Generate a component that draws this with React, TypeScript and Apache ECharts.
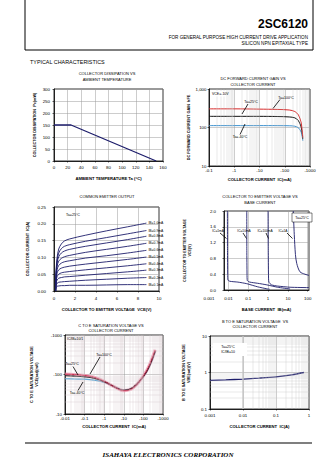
import React, { useEffect, useRef } from 'react';
import * as echarts from 'echarts';

// ---- Chart 1: collector dissipation vs ambient temperature
const pdTemp = [0, 25, 150];
const pdPower = [150, 150, 0];

// ---- Chart 2: DC forward current gain vs collector current (|IC| mA)
const hfeIc = [0.1, 1, 10, 50, 150, 250, 350, 450, 520];
const hfeTa100 = [305, 305, 300, 295, 285, 260, 210, 130, 55];
const hfeTa25 = [195, 195, 195, 193, 188, 178, 150, 100, 50];
const hfeTaM40 = [112, 112, 112, 112, 111, 108, 98, 75, 45];

// ---- Chart 3: common emitter output
const vce = [0.15, 0.2, 0.3, 0.45, 0.7, 1.0, 1.5, 3, 5, 7, 8.8];
const ibLabels = ['IB=1.0mA', 'IB=0.9mA', 'IB=0.8mA', 'IB=0.7mA', 'IB=0.6mA', 'IB=0.5mA', 'IB=0.4mA', 'IB=0.3mA', 'IB=0.2mA', 'IB=0.1mA'];
const icIb10 = [0, 0.06, 0.1, 0.125, 0.14, 0.149, 0.155, 0.166, 0.179, 0.191, 0.202];
const icIb09 = [0, 0.055, 0.092, 0.113, 0.126, 0.133, 0.138, 0.148, 0.159, 0.17, 0.18];
const icIb08 = [0, 0.05, 0.084, 0.102, 0.113, 0.119, 0.124, 0.133, 0.143, 0.153, 0.163];
const icIb07 = [0, 0.045, 0.074, 0.089, 0.097, 0.102, 0.106, 0.115, 0.124, 0.133, 0.142];
const icIb06 = [0, 0.04, 0.064, 0.076, 0.083, 0.087, 0.09, 0.098, 0.105, 0.113, 0.121];
const icIb05 = [0, 0.035, 0.054, 0.063, 0.068, 0.071, 0.074, 0.08, 0.087, 0.094, 0.101];
const icIb04 = [0, 0.03, 0.043, 0.05, 0.054, 0.056, 0.058, 0.063, 0.069, 0.075, 0.081];
const icIb03 = [0, 0.024, 0.033, 0.038, 0.04, 0.042, 0.043, 0.047, 0.052, 0.057, 0.062];
const icIb02 = [0, 0.017, 0.023, 0.026, 0.027, 0.028, 0.029, 0.032, 0.035, 0.038, 0.04];
const icIb01 = [0, 0.01, 0.014, 0.015, 0.016, 0.016, 0.017, 0.017, 0.018, 0.019, 0.019];
const icCurves = [icIb10, icIb09, icIb08, icIb07, icIb06, icIb05, icIb04, icIb03, icIb02, icIb01];

// ---- Chart 4: VCE vs base current (IB mA, VCE V)
const curveLabels = ['IC=1mA', 'IC=10mA', 'IC=100mA', 'IC=1A'];
const ibA = [0.0089, 0.009, 0.0092, 0.0095, 0.012, 0.03, 0.084, 0.3, 0.87, 1.2];
const vA = [2.0, 1.0, 0.4, 0.25, 0.22, 0.2, 0.16, 0.08, 0.03, 0.02];
const ibB = [0.0845, 0.085, 0.087, 0.09, 0.12, 0.3, 0.87, 3, 12.9];
const vB = [2.0, 1.0, 0.4, 0.24, 0.2, 0.17, 0.13, 0.07, 0.025];
const ibC = [1.0, 1.02, 1.05, 1.1, 1.5, 3, 12.9, 116];
const vC = [2.0, 1.0, 0.4, 0.2, 0.13, 0.1, 0.07, 0.06];
const ibD = [18.7, 21, 24, 28, 40.8, 72, 116];
const vD = [2.0, 1.4, 0.9, 0.67, 0.46, 0.4, 0.37];

// ---- Chart 5: VCE(sat) vs IC (|IC| mA, |VCE(sat)| mV)
const satIc = [0.01, 0.03, 0.1, 0.3, 1, 3, 10, 30, 100, 200, 400];
const satTa100 = [102, 100, 94, 85, 67, 50, 39, 46, 92, 170, 420];
const satTa25 = [93, 91, 87, 80, 66, 50, 40, 47, 90, 160, 390];
const satTaM40 = [78, 77, 76, 72, 63, 50, 41, 47, 88, 155, 370];

// ---- Chart 6: VBE(sat) vs IC (A, V)
const vbeIc = [0.001, 0.003, 0.01, 0.03, 0.1, 0.3, 0.7];
const vbeSat = [0.61, 0.63, 0.66, 0.7, 0.76, 0.86, 1.0];

const FONT = '"Liberation Sans", Arial, sans-serif';
const NAVY = '#1d1d6b';

const pairs = (xs: number[], ys: number[]) => xs.map((x, i) => [x, ys[i]]);

const logMinor = (lo: number, hi: number) => {
  const out: number[] = [];
  for (let d = lo; d < hi * 0.999; d *= 10) {
    for (let k = 2; k <= 9; k++) out.push(+(d * k).toPrecision(3));
  }
  return out;
};

const minorLines = (xs: number[], ys: number[], color = '#c4c4c4') => ({
  silent: true,
  symbol: ['none', 'none'],
  label: { show: false },
  lineStyle: { color, width: 0.4, type: 'solid' },
  emphasis: { disabled: true },
  data: [...xs.map((v) => ({ xAxis: v })), ...ys.map((v) => ({ yAxis: v }))],
});

const txt = (x: number, y: number, text: string, size = 4, align = 'center', weight = 'normal', extra: any = {}) => ({
  type: 'text',
  x,
  y,
  silent: true,
  z: 100,
  style: {
    text,
    fill: '#000',
    font: `${weight} ${size}px ${FONT}`,
    align,
    textAlign: align,
    verticalAlign: 'middle',
    textVerticalAlign: 'middle',
    ...extra,
  },
});

const seg = (x1: number, y1: number, x2: number, y2: number, w = 0.8, color = '#000') => ({
  type: 'line',
  silent: true,
  z: 100,
  shape: { x1, y1, x2, y2 },
  style: { stroke: color, lineWidth: w },
});

const box = (x: number, y: number, w: number, h: number, stroke = 'none') => ({
  type: 'rect',
  silent: true,
  z: 99,
  shape: { x, y, width: w, height: h },
  style: { fill: '#fff', stroke, lineWidth: 0.5 },
});

const axisBase = (extra: any) => ({
  nameLocation: 'middle',
  nameTextStyle: { fontSize: 4.2, color: '#000', fontWeight: 'bold', fontFamily: FONT },
  axisLine: { show: true, onZero: false, lineStyle: { color: '#000', width: 0.8 } },
  axisTick: { show: true, length: 1.5, inside: false, lineStyle: { color: '#000', width: 0.6 } },
  splitLine: { show: true, lineStyle: { color: '#9a9a9a', width: 0.5 } },
  minorTick: { show: false },
  ...extra,
  axisLabel: { fontSize: 4.4, color: '#000', fontFamily: FONT, ...(extra.axisLabel || {}) },
});

const neg = (v: number) => '-' + String(v);
const decadeOnly = (v: number) => {
  const l = Math.log10(v);
  return Math.abs(l - Math.round(l)) < 1e-6 ? String(+v.toPrecision(3)) : '';
};

export default function App() {
  const ref = useRef<HTMLDivElement>(null);

  useEffect(() => {
    if (!ref.current) return;
    const chart = echarts.init(ref.current, null, { renderer: 'svg', width: 336, height: 475 });

    const grids = [
      { left: 54, top: 89, width: 109, height: 72 },
      { left: 209, top: 89, width: 101, height: 77 },
      { left: 54, top: 207, width: 105, height: 84 },
      { left: 224, top: 211, width: 85, height: 79 },
      { left: 65, top: 335, width: 98, height: 79 },
      { left: 210, top: 336, width: 99, height: 73 },
    ].map((g) => ({ ...g, show: true, borderColor: '#000', borderWidth: 0.8, backgroundColor: 'transparent', containLabel: false }));

    const xAxis = [
      axisBase({ gridIndex: 0, type: 'value', min: 0, max: 160, interval: 20, name: 'AMBIENT TEMPERATURE Ta (°C)', nameGap: 15, axisLabel: { margin: 4 } }),
      axisBase({ gridIndex: 1, type: 'log', logBase: 10, min: 0.1, max: 1000, name: 'COLLECTOR CURRENT  IC(mA)', nameGap: 11, axisLabel: { margin: 2.5, formatter: neg } }),
      axisBase({ gridIndex: 2, type: 'value', min: 0, max: 10, interval: 2, name: 'COLLECTOR TO EMITTER VOLTAGE  VCE(V)', nameGap: 16, axisLabel: { margin: 5 } }),
      axisBase({ gridIndex: 3, type: 'log', logBase: 10, min: 0.006, max: 116, name: 'BASE CURRENT  IB(mA)', nameGap: 17, axisLabel: { margin: 6, formatter: decadeOnly, showMinLabel: false, showMaxLabel: false } }),
      axisBase({ gridIndex: 4, type: 'log', logBase: 10, min: 0.01, max: 1000, name: 'COLLECTOR CURRENT  IC(mA)', nameGap: 10, axisLabel: { margin: 2.5, formatter: neg } }),
      axisBase({ gridIndex: 5, type: 'log', logBase: 10, min: 0.001, max: 1, name: 'COLLECTOR CURRENT  IC(A)', nameGap: 15, axisLabel: { margin: 4 } }),
    ];

    const yAxis = [
      axisBase({ gridIndex: 0, type: 'value', min: 0, max: 300, interval: 50, name: 'COLLECTOR DISSIPATION  Pc(mW)', nameGap: 17, nameTextStyle: { fontSize: 3.8, color: '#000', fontWeight: 'bold', fontFamily: FONT }, axisLabel: { margin: 4 } }),
      axisBase({ gridIndex: 1, type: 'log', logBase: 10, min: 10, max: 1000, name: 'DC FORWARD CURRENT GAIN  hFE', nameGap: 18, nameTextStyle: { fontSize: 3.8, color: '#000', fontWeight: 'bold', fontFamily: FONT }, axisLabel: { margin: 2.5 } }),
      axisBase({ gridIndex: 2, type: 'value', min: 0, max: 0.25, interval: 0.05, name: 'COLLECTOR CURRENT  IC(A)', nameGap: 24, nameTextStyle: { fontSize: 3.8, color: '#000', fontWeight: 'bold', fontFamily: FONT }, axisLabel: { margin: 8, formatter: (v: number) => v.toFixed(2) } }),
      axisBase({ gridIndex: 3, type: 'value', min: 0, max: 2, interval: 0.4, name: 'COLLECTOR TO EMITTER VOLTAGE\nVCE(V)', nameGap: 32, nameTextStyle: { fontSize: 3.6, color: '#000', fontWeight: 'bold', fontFamily: FONT, lineHeight: 5 }, axisLabel: { margin: 8, formatter: (v: number) => v.toFixed(1) } }),
      axisBase({ gridIndex: 4, type: 'log', logBase: 10, min: 10, max: 1000, name: 'C TO E SATURATION VOLTAGE\nVCE(sat)(mV)', nameGap: 26, nameTextStyle: { fontSize: 3.8, color: '#000', fontWeight: 'bold', fontFamily: FONT, lineHeight: 5 }, axisLabel: { margin: 3, formatter: neg } }),
      axisBase({ gridIndex: 5, type: 'log', logBase: 10, min: 0.1, max: 10, name: 'B TO E SATURATION VOLTAGE\nVBE(sat)(V)', nameGap: 19, nameTextStyle: { fontSize: 3.8, color: '#000', fontWeight: 'bold', fontFamily: FONT, lineHeight: 5 }, axisLabel: { margin: 3 } }),
    ];

    const line = (xi: number, data: number[][], color: string, width = 1, extra: any = {}) => ({
      type: 'line',
      xAxisIndex: xi,
      yAxisIndex: xi,
      data,
      symbol: 'none',
      silent: true,
      lineStyle: { color, width },
      ...extra,
    });

    const series: any[] = [
      line(0, pairs(pdTemp, pdPower), NAVY, 1.3),
      line(1, pairs(hfeIc, hfeTaM40), '#3f93d0', 1, { smooth: 0.3, markLine: minorLines(logMinor(0.1, 1000), []) }),
      line(1, pairs(hfeIc, hfeTa25), '#111111', 1, { smooth: 0.3 }),
      line(1, pairs(hfeIc, hfeTa100), '#d82a2a', 1, { smooth: 0.3 }),
      ...icCurves.map((c, i) =>
        line(2, pairs(vce, c), NAVY, 0.9, {
          smooth: 0.35,
          endLabel: { show: true, formatter: ibLabels[i], fontSize: 3.4, color: '#000', distance: 2, fontFamily: FONT },
        })
      ),
      line(3, pairs(ibA, vA), NAVY, 0.9, { smooth: 0.2 }),
      line(3, pairs(ibB, vB), NAVY, 0.9, { smooth: 0.2 }),
      line(3, pairs(ibC, vC), NAVY, 0.9, { smooth: 0.2 }),
      line(3, pairs(ibD, vD), NAVY, 0.9, { smooth: 0.3 }),
      line(4, pairs(satIc, satTaM40), '#4aa3d6', 1.2, { smooth: 0.4, markLine: minorLines(logMinor(0.01, 1000), logMinor(10, 1000), '#d3c8cc') }),
      line(4, pairs(satIc, satTa100), 'rgba(236,140,165,0.7)', 3.2, { smooth: 0.4 }),
      line(4, pairs(satIc, satTa25), '#151515', 1.1, { smooth: 0.4 }),
      line(4, pairs(satIc, satTa100), '#c8284c', 1.0, { smooth: 0.4 }),
      line(5, pairs(vbeIc, vbeSat), NAVY, 1.3, { smooth: 0.3, markLine: minorLines(logMinor(0.001, 1), logMinor(0.1, 10)) }),
    ];

    const graphic: any[] = [
      // header frame
      seg(25, 0, 25, 50, 1),
      seg(25, 50, 313, 50, 1),
      seg(313, 0, 313, 50, 1),
      txt(308, 24, '2SC6120', 12, 'right', 'bold'),
      txt(308, 37, 'FOR GENERAL PURPOSE HIGH CURRENT DRIVE APPLICATION', 4.6, 'right'),
      txt(308, 43.5, 'SILICON NPN EPITAXIAL TYPE', 4.6, 'right'),
      txt(30, 61.5, 'TYPICAL CHARACTERISTICS', 5.4, 'left'),
      // chart titles
      txt(107, 73, 'COLLECTOR DISSIPATION VS', 4),
      txt(107, 79, 'AMBIENT TEMPERATURE', 4),
      txt(253, 78.5, 'DC FORWARD CURRENT GAIN VS', 4),
      txt(253, 84, 'COLLECTOR CURRENT', 4),
      txt(107, 196, 'COMMON EMITTER OUTPUT', 4),
      txt(260, 196, 'COLLECTOR TO EMITTER VOLTAGE VS', 4),
      txt(260, 202, 'BASE CURRENT', 4),
      txt(111, 325, 'C TO E SATURATION VOLTAGE VS', 4),
      txt(111, 330, 'COLLECTOR CURRENT', 4),
      txt(255, 321, 'B TO E SATURATION VOLTAGE  VS', 4),
      txt(255, 326, 'COLLECTOR CURRENT', 4),
      // chart 2 annotations
      box(211, 91, 15, 5.5),
      txt(212, 93.8, 'VCE=-10V', 3.5, 'left'),
      txt(251, 102, 'Ta=25°C', 3.5),
      seg(248, 104, 242, 114),
      txt(286, 97.5, 'Ta=100°C', 3.5),
      seg(280, 99.5, 273, 108.5),
      txt(240, 137, 'Ta=-40°C', 3.5),
      seg(240, 134.5, 245, 124),
      // chart 3 annotation
      txt(66, 215, 'Ta=25°C', 3.6, 'left'),
      // chart 4 annotations
      box(292, 213, 20, 9, '#000'),
      txt(302, 217.5, 'Ta=25°C', 3.5),
      txt(218, 231, curveLabels[0], 3.2),
      seg(220, 233, 226.5, 238.5),
      txt(244, 231, curveLabels[1], 3.2),
      seg(243, 233, 246.5, 238.5),
      txt(265, 231, curveLabels[2], 3.2),
      seg(266, 233, 268.5, 238.5),
      txt(283, 231, curveLabels[3], 3.2),
      seg(287, 233, 292.5, 238.5),
      txt(209, 298.5, '0.001', 4.4),
      // chart 5 annotations
      txt(67, 339, 'IC/IB=10/1', 3.4, 'left'),
      txt(104, 355, 'Ta=100°C', 3.5),
      seg(100, 357, 90, 374),
      txt(72, 364, 'Ta=25°C', 3.5),
      seg(73, 366.5, 78, 375),
      txt(77, 393, 'Ta=-40°C', 3.5),
      seg(78, 390.5, 83, 382),
      // chart 6 annotation
      box(213, 343, 34, 13),
      txt(228, 347, 'Ta=25°C', 3.5),
      txt(228, 352, 'IC/IB=10', 3.5),
      // footer
      seg(25, 443, 312, 443, 1.2),
      txt(168, 455, 'ISAHAYA ELECTRONICS CORPORATION', 7, 'center', 'bold', { font: `italic bold 7px "Liberation Serif", "Times New Roman", serif` }),
    ];

    chart.setOption({
      animation: false,
      backgroundColor: '#ffffff',
      textStyle: { fontFamily: FONT },
      grid: grids,
      xAxis,
      yAxis,
      series,
      graphic,
    });

    return () => {
      chart.dispose();
    };
  }, []);

  return (
    <div style={{ position: 'absolute', left: 0, top: 0, width: 336, height: 475, background: '#fff' }}>
      <div ref={ref} style={{ width: 336, height: 475 }} />
    </div>
  );
}
